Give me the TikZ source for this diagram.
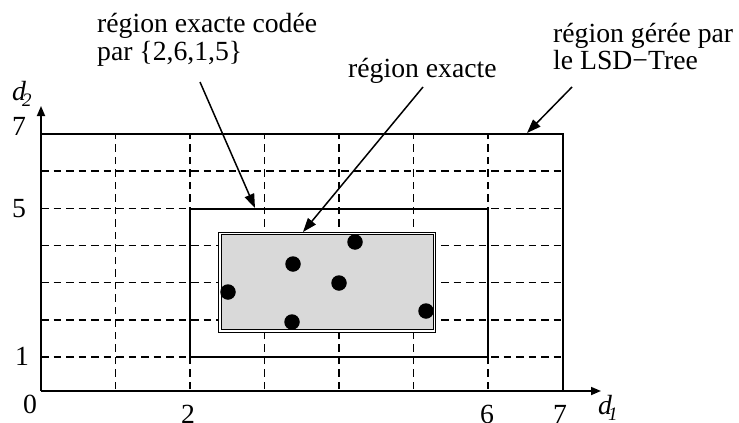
\documentclass[tikz,border=0pt]{standalone}
\usepackage{fontspec}
\setmainfont{Liberation Serif}
\usetikzlibrary{arrows.meta}
\begin{document}
\begin{tikzpicture}[x=1pt,y=-1pt,
  txt/.style={anchor=base west,inner sep=0pt,font=\fontsize{27.7}{28}\selectfont},
  num/.style={anchor=base,inner sep=0pt,font=\fontsize{27.7}{28}\selectfont},
  gridline/.style={line width=1.5pt,dash pattern=on 7.5pt off 5pt},
  solidline/.style={line width=1.6pt},
  callout/.style={line width=1.5pt,-{Triangle[length=14pt,width=10pt]}},
  axis/.style={line width=1.7pt,-{Triangle[length=10pt,width=8pt]}},
  dot/.style={circle,fill=black,inner sep=0pt,minimum size=15.5pt}]
\useasboundingbox (0,0) rectangle (739,423);
% grid
\foreach \i in {1,...,6} {
  \draw[gridline] ({41+74.5*\i},389) -- ({41+74.5*\i},134);
}
\foreach \j in {1,...,6} {
  \draw[gridline] (41,{357-37.17*(\j-1)}) -- (561,{357-37.17*(\j-1)});
}
% outer managed region
\draw[solidline] (41,134) -- (563,134) -- (563,391);
% coded region
\draw[solidline] (190,209) rectangle (488,357);
% exact region
\draw[fill=gray!30,draw=black,line width=1.1pt,double=white,double distance=1.4pt] (220,233.5) rectangle (434.5,331);
% axes
\coordinate (O) at (41,391);
\coordinate (Xend) at (601,391);
\coordinate (Yend) at (41,106);
\draw[axis] (O) -- (Xend);
\draw[axis] (O) -- (Yend);
% dots
\node[dot] (p1) at (228,292) {};
\node[dot] (p2) at (293,264) {};
\node[dot] (p3) at (339,283) {};
\node[dot] (p4) at (292,322) {};
\node[dot] (p5) at (355,242) {};
\node[dot] (p6) at (426,311) {};
% labels
\node[txt] (t1a) at (97,32) {région exacte codée};
\node[txt] (t1b) at (97,60) {par \{2,6,1,5\}};
\node[txt] (t2) at (348,77) {région exacte};
\node[txt] (t3a) at (553,42) {région gérée par};
\node[txt] (t3b) at (553,69) {le LSD−Tree};
% callouts
\coordinate (a1s) at (200,82);
\coordinate (a1e) at (255,208);
\coordinate (a2s) at (423,87);
\coordinate (a2e) at (303,232);
\coordinate (a3s) at (572,87);
\coordinate (a3e) at (527,133);
\draw[callout] (a1s) -- (a1e);
\draw[callout] (a2s) -- (a2e);
\draw[callout] (a3s) -- (a3e);
% axis numbers
\node[num] (n7y) at (19,135) {7};
\node[num] (n5y) at (19,217) {5};
\node[num] (n1y) at (22,365) {1};
\node[num] (n0) at (30,413) {0};
\node[num] (n2x) at (188,423) {2};
\node[num] (n6x) at (487,423) {6};
\node[num] (n7x) at (560,423) {7};
% axis names
\node[txt] (d2) at (12,100) {\textit{d}\kern-4pt\raisebox{-6pt}{\fontsize{19}{19}\selectfont\textit{2}}};
\node[txt] (d1) at (598,414) {\textit{d}\kern-4pt\raisebox{-6pt}{\fontsize{19}{19}\selectfont\textit{1}}};
\end{tikzpicture}
\end{document}
